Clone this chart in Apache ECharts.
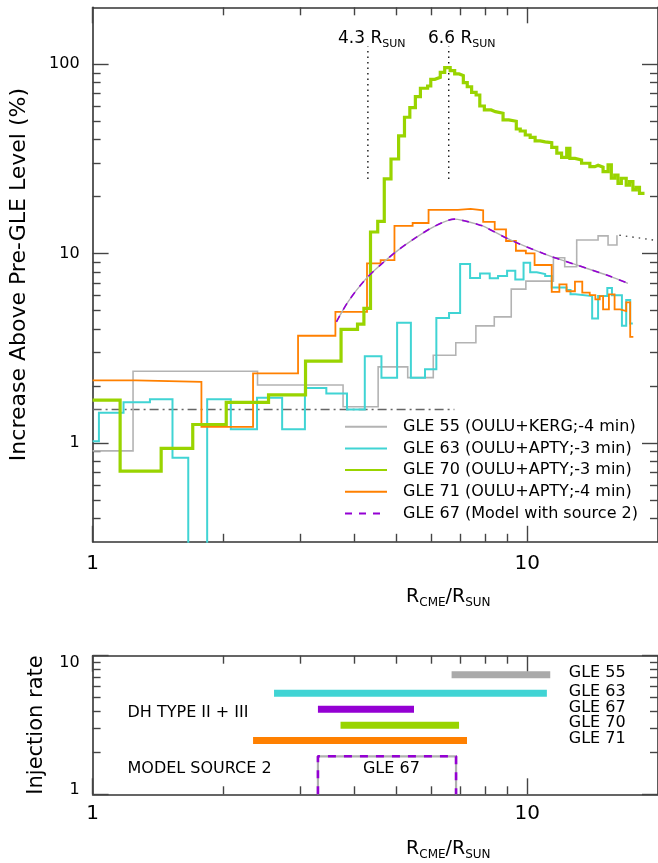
<!DOCTYPE html>
<html>
<head>
<meta charset="utf-8">
<script src="https://cdn.jsdelivr.net/npm/echarts@6/dist/echarts.min.js"></script>
<style>
html,body{margin:0;padding:0;background:#ffffff;}
#chart{width:658px;height:863px;}
</style>
</head>
<body>
<div id="chart"></div>
<script>
// ---------------- DATA ----------------
// Step series: [R_CME/R_SUN at start of step, increase (%)]; last pair closes the final step
const gle55 = [[1,0.907],[1.239,2.39],[2.396,2.02],[3.77,1.55],[4.54,2.52],[5.31,2.21],[6.08,2.90],[6.85,3.38],[7.62,4.15],[8.4,4.63],[9.19,6.49],[9.93,7.15],[11.49,9.5],[12.2,8.51],[13.0,11.8],[14.56,12.4],[15.35,11.09],[16.09,11.09],[16.09,12.5]];
const gle55Extension = [[16.3,12.5],[20,11.7]];
const gle63 = [[1,1.02],[1.034,1.44],[1.178,1.64],[1.355,1.70],[1.527,0.833],[1.66,0.1],[1.835,1.70],[2.08,1.18],[2.39,1.73],[2.73,1.18],[3.08,1.95],[3.45,1.82],[3.85,1.50],[4.23,2.87],[4.62,2.21],[5.02,4.31],[5.40,2.21],[5.82,2.45],[6.18,4.56],[6.61,4.85],[7.01,8.8],[7.39,7.42],[7.79,7.84],[8.2,7.4],[8.57,7.6],[8.99,8.11],[9.39,7.30],[9.81,8.94],[10.16,7.96],[10.52,7.79],[11.0,7.6],[11.39,6.62],[12.32,6.41],[12.58,6.1],[12.92,5.96],[14.11,4.54],[14.56,5.96],[15.29,6.58],[15.67,6.03],[16.52,4.15],[16.9,5.68],[17.26,4.27],[17.5,4.27]];
const gle70 = [[1,1.68],[1.157,0.708],[1.438,0.934],[1.70,1.25],[2.03,1.635],[2.54,1.79],[3.09,2.70],[3.73,3.98],[4.07,4.24],[4.21,5.13],[4.36,13.0],[4.53,14.8],[4.69,24.8],[4.86,31.6],[5.06,41.9],[5.22,52.5],[5.37,59.0],[5.53,67.4],[5.68,74.7],[5.90,76.8],[6.00,83.3],[6.13,85.3],[6.31,90.7],[6.46,95.9],[6.65,92.5],[6.81,88.9],[6.97,87.1],[7.13,79.9],[7.28,76.1],[7.45,71.1],[7.63,68.8],[7.78,60.2],[7.97,57.4],[8.26,56.2],[8.45,55.1],[8.80,50.8],[9.07,50.0],[9.44,45.5],[9.64,44.4],[9.90,42.3],[10.16,41.1],[10.43,39.4],[10.71,38.9],[11.0,38.5],[11.39,36.4],[11.70,33.9],[12.00,32.2],[12.33,36.0],[12.54,31.8],[12.88,31.2],[13.34,30.0],[13.94,28.8],[14.31,29.3],[14.56,28.6],[14.95,27.1],[15.35,29.4],[15.62,25.0],[15.90,26.0],[16.18,23.5],[16.47,25.0],[16.90,23.0],[17.20,24.0],[17.51,21.7],[17.82,22.4],[18.13,20.8],[18.62,20.8]];
const gle71 = [[1,2.14],[1.258,2.10],[1.78,1.215],[2.34,2.33],[2.97,3.68],[3.62,4.92],[4.28,8.88],[4.60,9.24],[4.95,14.0],[5.45,14.5],[5.93,17.0],[6.93,17.2],[7.41,16.9],[7.92,14.7],[8.42,13.43],[8.94,11.65],[9.42,10.35],[9.93,10.02],[10.4,8.7],[11.39,6.28],[11.86,6.87],[12.32,6.32],[12.88,7.1],[13.39,6.21],[13.93,6.03],[14.35,5.73],[14.69,5.96],[14.95,5.07],[15.42,6.09],[15.89,5.07],[16.37,4.97],[16.9,5.52],[17.26,3.63],[17.55,3.63]];
const gle67Model = [[3.64,4.36],[3.87,5.56],[4.23,7.24],[4.62,8.8],[5.04,10.4],[5.50,12.0],[6.0,13.6],[6.44,14.7],[6.79,15.2],[7.16,14.9],[7.67,14.3],[7.95,13.9],[9.15,11.8],[10.9,10.0],[13.0,8.7],[15.47,7.6],[17.05,6.96]];
const preGleLevel = [[1,1.5],[6.8,1.5]];
const markerR = [4.3, 6.6];
const markerRange = [24.8, 124];

const legendNames = ['GLE 55 (OULU+KERG;-4 min)','GLE 63 (OULU+APTY;-3 min)','GLE 70 (OULU+APTY;-3 min)','GLE 71 (OULU+APTY;-4 min)','GLE 67 (Model with source 2)'];

// Injection (lower panel)
const injNames = ['GLE 55','GLE 63','GLE 67','GLE 70','GLE 71'];
const injStart = [6.70, 2.615, 3.30, 3.72, 2.34];
const injEnd   = [11.3, 11.1, 5.49, 6.97, 7.27];
const injRate  = [7.3, 5.35, 4.10, 3.15, 2.44];
const modelSource = {start: 3.30, end: 6.86, rate: 1.88};

// Tick values
const xMajor = [1, 10];
const xMinor = [2,3,4,5,6,7,8,9];
const yTopMajor = [1, 10, 100];
const yTopMinor = [0.4,0.5,0.6,0.7,0.8,0.9,2,3,4,5,6,7,8,9,20,30,40,50,60,70,80,90];
const yBotMajor = [1, 10];
const yBotMinor = [2,3,4,5,6,7,8,9];

// ---------------- STYLE ----------------
const FONT = "'DejaVu Sans', 'Liberation Sans', sans-serif";
const C = {gray:'#b3b3b3', cyan:'#40d4d4', green:'#99d400', orange:'#ff8000', purple:'#9400d3', barGray:'#aaaaaa'};
const AXC = '#333333';
const CLEAR = 'rgba(0,0,0,0)';

const chart = echarts.init(document.getElementById('chart'), null, {renderer:'canvas'});

function xAxisDef(grid, pos, ticks, len, opts) {
  opts = opts || {};
  return Object.assign({
    type:'log', logBase:10, gridIndex:grid, position:pos, min:1, max:20,
    axisLine:{show: !!opts.line, lineStyle:{color:AXC, width:1.6}},
    axisTick:{show:true, inside:true, length:len, customValues:ticks, lineStyle:{color:'#444', width:1.4}},
    axisLabel:{show:false},
    splitLine:{show:false}, minorTick:{show:false}, minorSplitLine:{show:false}
  }, opts.extra || {});
}
function yAxisDef(grid, pos, min, max, ticks, len, opts) {
  opts = opts || {};
  return Object.assign({
    type:'log', logBase:10, gridIndex:grid, position:pos, min:min, max:max,
    axisLine:{show: !!opts.line, lineStyle:{color:AXC, width:1.6}},
    axisTick:{show:true, inside:true, length:len, customValues:ticks, lineStyle:{color:'#444', width:1.4}},
    axisLabel:{show:false},
    splitLine:{show:false}, minorTick:{show:false}, minorSplitLine:{show:false}
  }, opts.extra || {});
}

const xTitleRich = {
  r:{fontSize:19, fontFamily:FONT, color:'#000', lineHeight:22},
  s:{fontSize:12, fontFamily:FONT, color:'#000', lineHeight:12, padding:[12,0,0,0]}
};
const xTitle = '{r|R}{s|CME}{r|/R}{s|SUN}';

const TOP = {left:92.6, top:7.3, width:569.5, height:534.5};
const BOT = {left:92.6, top:655.7, width:569.5, height:138.6};

const xAxes = [
  xAxisDef(0,'bottom',xMajor,16,{line:true, extra:{
    axisLabel:{show:true, customValues:xMajor, margin:12, fontSize:20, fontFamily:FONT, color:'#000', formatter:v=>String(Math.round(v))},
    name:xTitle, nameLocation:'middle', nameGap:44,
    nameTextStyle:{rich:xTitleRich, padding:[0,0,0,146]}
  }}),
  xAxisDef(0,'top',xMajor,16,{line:true}),
  xAxisDef(1,'bottom',xMinor,8),
  xAxisDef(1,'top',xMinor,8),
  xAxisDef(2,'bottom',xMajor,16,{line:true, extra:{
    axisLabel:{show:true, customValues:xMajor, margin:9, fontSize:20, fontFamily:FONT, color:'#000', formatter:v=>String(Math.round(v))},
    name:xTitle, nameLocation:'middle', nameGap:44,
    nameTextStyle:{rich:xTitleRich, padding:[0,0,0,146]}
  }}),
  xAxisDef(2,'top',xMajor,16,{line:true}),
  xAxisDef(3,'bottom',xMinor,8),
  xAxisDef(3,'top',xMinor,8)
];

const yAxes = [
  yAxisDef(0,'left',0.3,200,yTopMajor,16,{line:true, extra:{
    axisLabel:{show:true, customValues:yTopMajor, margin:13, fontSize:16, fontFamily:FONT, color:'#000', formatter:v=>String(Math.round(v))},
    name:'Increase Above Pre-GLE Level (%)', nameLocation:'middle', nameRotate:90, nameGap:62,
    nameTextStyle:{fontSize:22, fontFamily:FONT, color:'#000'}
  }}),
  yAxisDef(0,'right',0.3,200,yTopMajor,16,{line:true}),
  yAxisDef(1,'left',0.3,200,yTopMinor,8),
  yAxisDef(1,'right',0.3,200,yTopMinor,8),
  yAxisDef(2,'left',1,10,yBotMajor,16,{line:true, extra:{
    axisLabel:{show:true, customValues:yBotMajor, margin:13, fontSize:16, fontFamily:FONT, color:'#000',
      formatter:v=> (Math.round(v) >= 10 ? '{lo|10}' : '{hi|1}'),
      rich:{lo:{fontSize:16, fontFamily:FONT, padding:[14,0,0,0]}, hi:{fontSize:16, fontFamily:FONT, padding:[0,0,8,0]}}},
    name:'Injection rate', nameLocation:'middle', nameRotate:90, nameGap:46,
    nameTextStyle:{fontSize:21, fontFamily:FONT, color:'#000'}
  }}),
  yAxisDef(2,'right',1,10,yBotMajor,16,{line:true}),
  yAxisDef(3,'left',1,10,yBotMinor,8),
  yAxisDef(3,'right',1,10,yBotMinor,8)
];

function stepSeries(name, data, color, width, z) {
  return {type:'line', name:name, data:data, step:'end', xAxisIndex:0, yAxisIndex:0,
    symbol:'none', showSymbol:false, clip:true, z:z,
    lineStyle:{color:color, width:width, join:'miter'}, itemStyle:{color:color}, emphasis:{disabled:true}};
}

const series = [];
series.push(stepSeries(legendNames[0], gle55, C.gray, 1.6, 2));
series.push({type:'line', name:'gle55-ext', data:gle55Extension, xAxisIndex:0, yAxisIndex:0, symbol:'none', clip:true, z:2,
  lineStyle:{color:'#444', width:1.4, type:[1.5,5]}, emphasis:{disabled:true}});
series.push(stepSeries(legendNames[1], gle63, C.cyan, 2, 3));
series.push(stepSeries(legendNames[2], gle70, C.green, 3.2, 5));
series.push(stepSeries(legendNames[3], gle71, C.orange, 1.8, 4));
series.push({type:'line', name:'model-base', data:gle67Model, smooth:0.3, xAxisIndex:0, yAxisIndex:0, symbol:'none', clip:true, z:6,
  lineStyle:{color:'#b0b0b0', width:1.4}, emphasis:{disabled:true}});
series.push({type:'line', name:legendNames[4], data:gle67Model, smooth:0.3, xAxisIndex:0, yAxisIndex:0, symbol:'none', clip:true, z:7,
  lineStyle:{color:C.purple, width:1.6, type:[7,7]}, itemStyle:{color:C.purple}, emphasis:{disabled:true}});
series.push({type:'line', name:'pre-gle', data:preGleLevel, xAxisIndex:0, yAxisIndex:0, symbol:'none', z:1,
  lineStyle:{color:'#666', width:1.4, type:[9,4,2,4]}, emphasis:{disabled:true}});
markerR.forEach((r,i) => {
  series.push({type:'line', name:'marker'+i, data:[[r,markerRange[0]],[r,markerRange[1]]], xAxisIndex:0, yAxisIndex:0, symbol:'none', z:1,
    lineStyle:{color:'#000', width:1.3, type:[1.5,4]}, emphasis:{disabled:true}});
});
// marker labels
const markerLabelAnchor = [[4.39,137],[7.07,137]];
series.push({type:'scatter', name:'marker-labels', xAxisIndex:0, yAxisIndex:0, symbolSize:1, itemStyle:{color:CLEAR, opacity:1}, z:10,
  data: markerR.map((r,i)=>({value:markerLabelAnchor[i], label:{formatter:'{m|'+r.toFixed(1)+' R}{s|SUN}'}})),
  label:{show:true, position:'inside', color:'#000', opacity:1, textBorderWidth:0,
    rich:{m:{fontSize:17, fontFamily:FONT, color:'#000', lineHeight:20}, s:{fontSize:11, fontFamily:FONT, color:'#000', lineHeight:11, padding:[11,0,0,0]}}},
  emphasis:{disabled:true}, silent:true});

// Lower panel: injection bars
const barColors = [C.barGray, C.cyan, C.purple, C.green, C.orange];
injNames.forEach((n,i) => {
  series.push({type:'line', name:'inj-'+n, data:[[injStart[i],injRate[i]],[injEnd[i],injRate[i]]], xAxisIndex:4, yAxisIndex:4,
    symbol:'none', z:3, lineStyle:{color:barColors[i], width:7, cap:'butt'}, emphasis:{disabled:true}});
});
const boxPts = [[modelSource.start,1],[modelSource.start,modelSource.rate],[modelSource.end,modelSource.rate],[modelSource.end,1]];
series.push({type:'line', name:'box-base', data:boxPts, xAxisIndex:4, yAxisIndex:4, symbol:'none', z:3,
  lineStyle:{color:'#b0b0b0', width:2.2}, emphasis:{disabled:true}});
series.push({type:'line', name:'box-dash', data:boxPts, xAxisIndex:4, yAxisIndex:4, symbol:'none', z:4,
  lineStyle:{color:C.purple, width:2.6, type:[8,8]}, emphasis:{disabled:true}});

const injLabelR = 12.43;
const textStyleBase = {fontSize:16, fontFamily:FONT, color:'#000', opacity:1, textBorderWidth:0};
series.push({type:'scatter', name:'inj-labels', xAxisIndex:4, yAxisIndex:4, symbolSize:1, itemStyle:{color:CLEAR, opacity:1}, z:10,
  data: injNames.map((n,i)=>({value:[injLabelR, injRate[i]], label:{formatter:n}})),
  label:Object.assign({show:true, position:'right', distance:0, offset:[0,-2]}, textStyleBase),
  emphasis:{disabled:true}, silent:true});
series.push({type:'scatter', name:'panel-texts', xAxisIndex:4, yAxisIndex:4, symbolSize:1, itemStyle:{color:CLEAR, opacity:1}, z:10,
  data:[
    {value:[1.20,3.84], label:{formatter:'DH TYPE II + III', position:'right'}},
    {value:[1.20,1.52], label:{formatter:'MODEL SOURCE 2', position:'right'}},
    {value:[4.87,1.52], label:{formatter:'GLE 67', position:'inside'}}
  ],
  label:Object.assign({show:true, distance:0}, textStyleBase),
  emphasis:{disabled:true}, silent:true});

const option = {
  animation:false,
  backgroundColor:'#ffffff',
  grid:[
    Object.assign({containLabel:false}, TOP),
    Object.assign({containLabel:false}, TOP),
    Object.assign({containLabel:false}, BOT),
    Object.assign({containLabel:false}, BOT)
  ],
  xAxis:xAxes,
  yAxis:yAxes,
  legend:{
    data:legendNames, orient:'vertical', left:344, top:418.7, padding:0,
    itemWidth:42, itemHeight:16, itemGap:5.7, selectedMode:false,
    itemStyle:{opacity:0},
    textStyle:{fontSize:16, fontFamily:FONT, color:'#000', padding:[0,0,0,11]}
  },
  series:series
};
chart.setOption(option);
</script>
</body>
</html>
